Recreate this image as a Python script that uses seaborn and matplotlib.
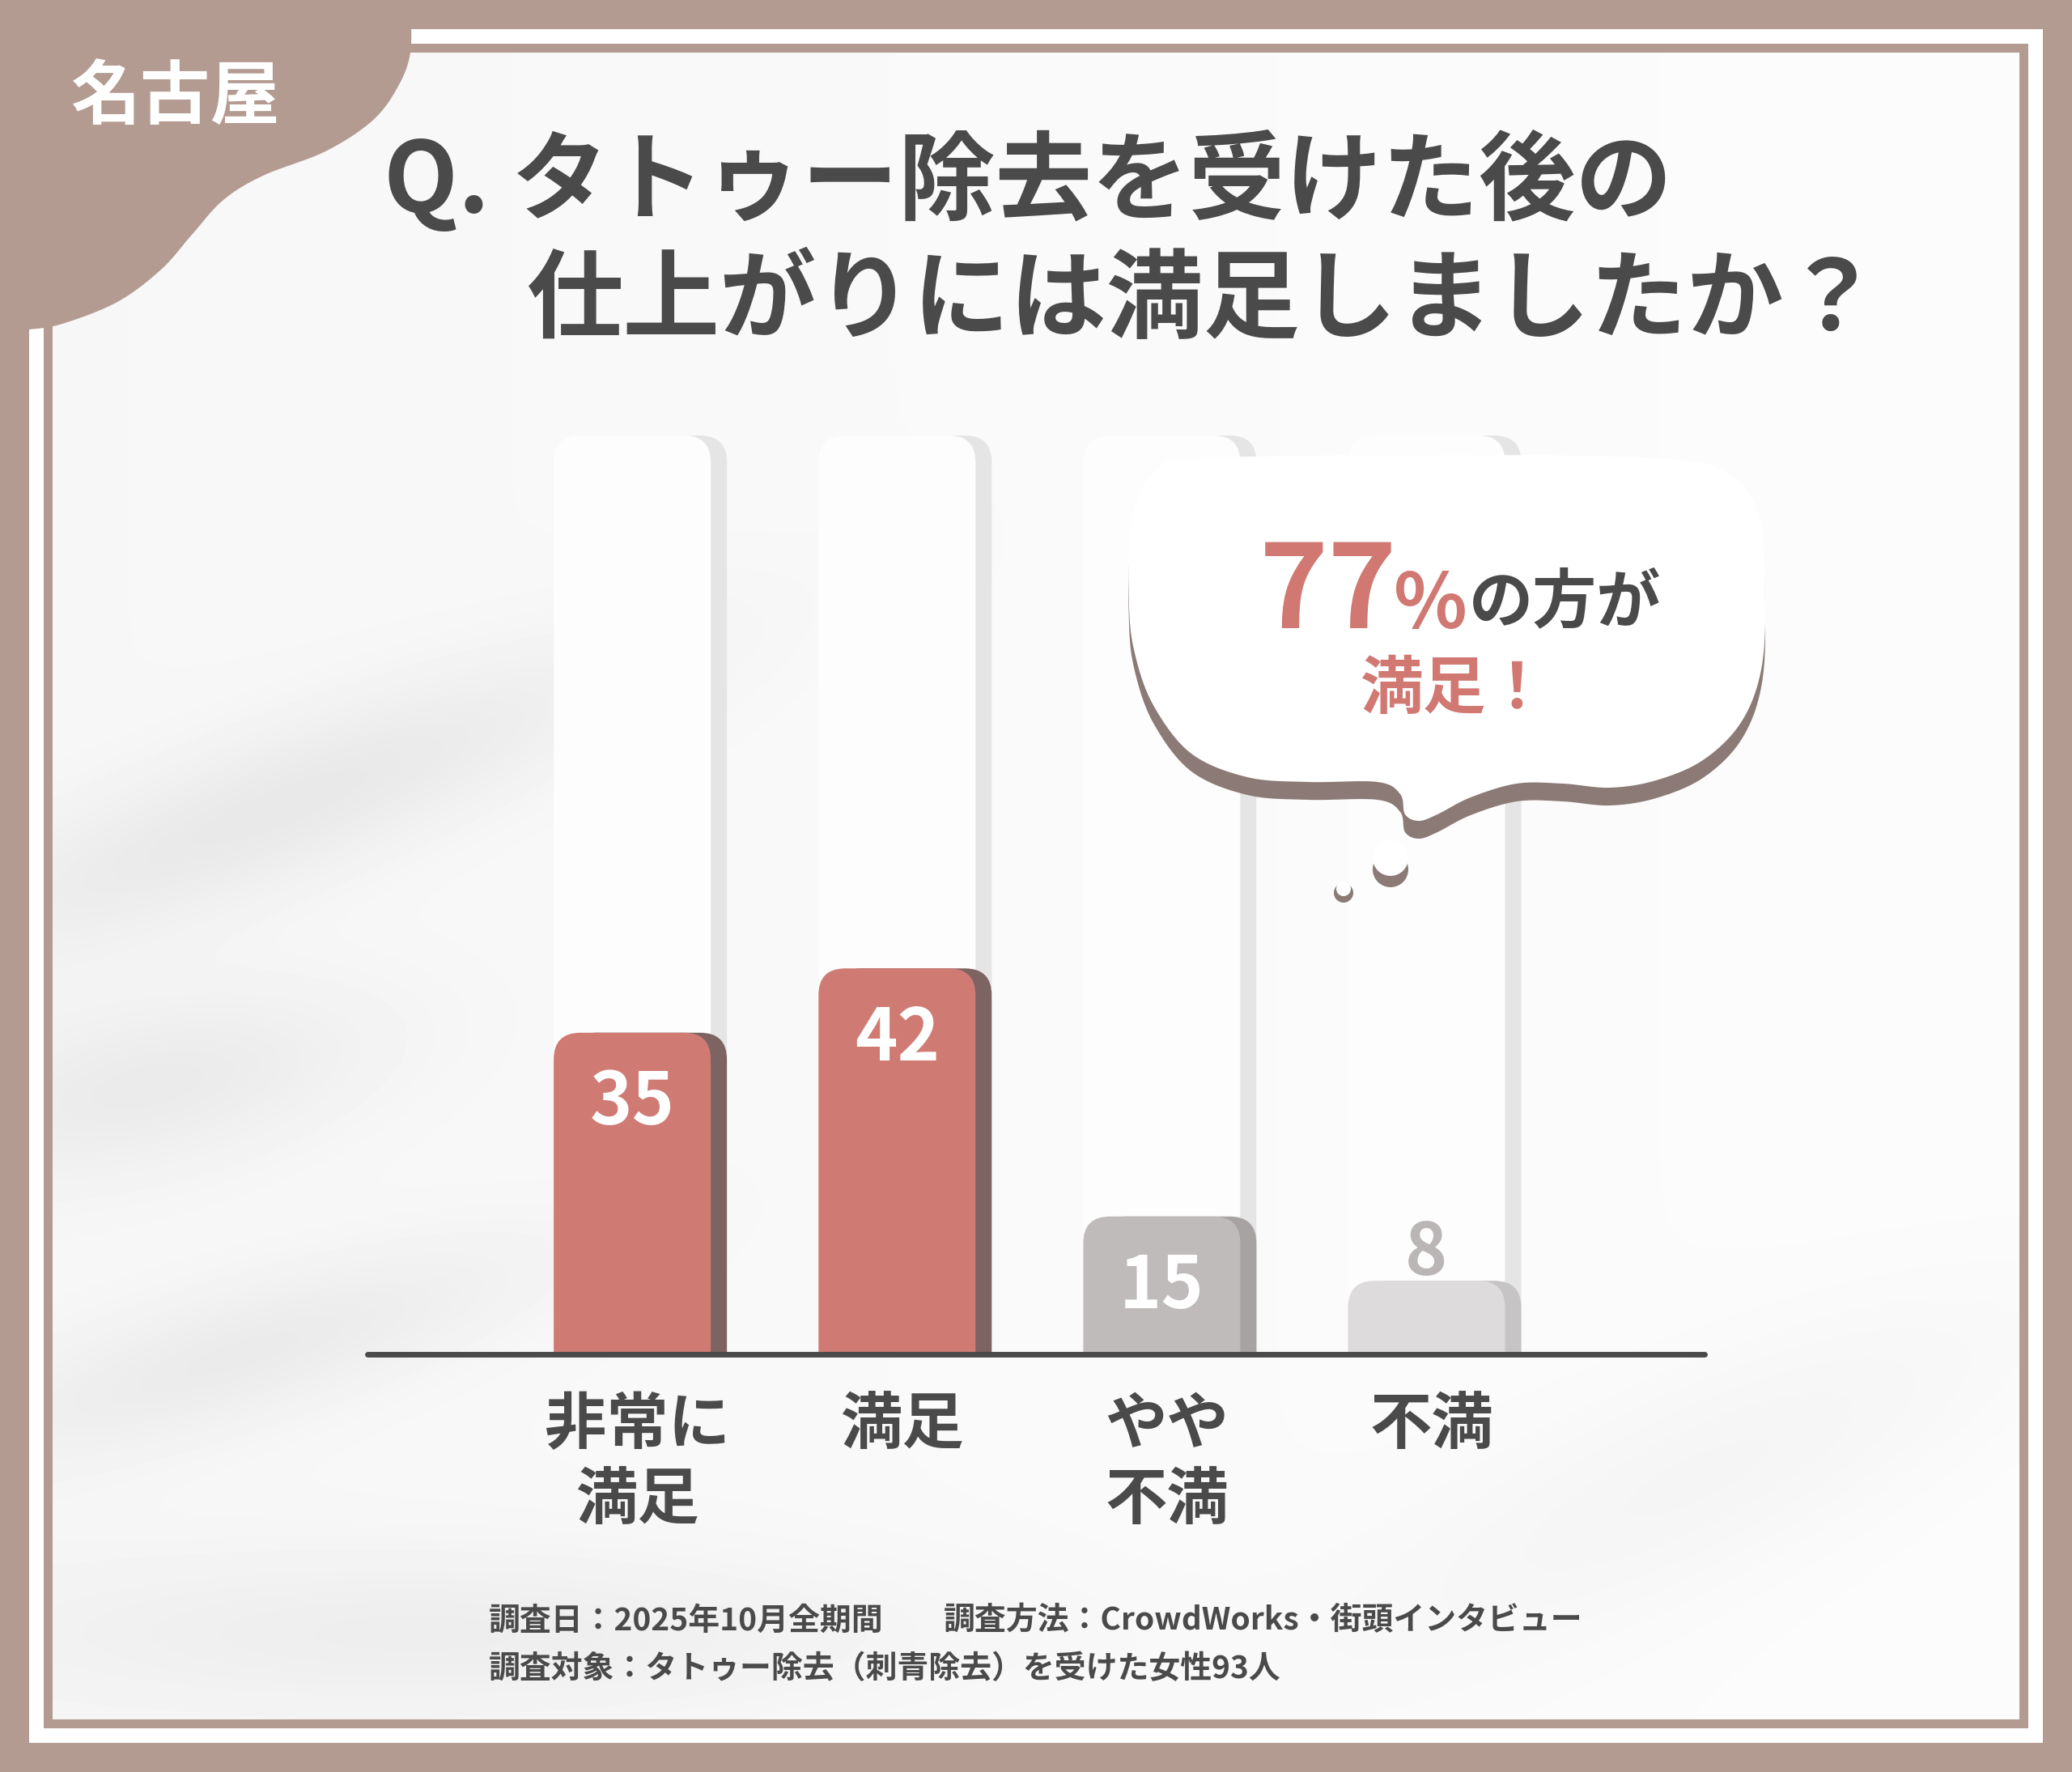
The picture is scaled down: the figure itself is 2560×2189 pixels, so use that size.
import numpy as np
import pandas as pd
import seaborn as sns
import matplotlib.pyplot as plt
from matplotlib.patches import FancyBboxPatch, Rectangle, Polygon, Circle

## Part 0: Data
categories = ["非常に\n満足", "満足", "やや\n不満", "不満"]
values = [35, 42, 15, 8]
scale_max = 100  # background track = 100%
bar_colors = ["#cf7b74", "#cf7b74", "#bfbbba", "#dddbdb"]
shadow_colors = ["#7d6361", "#7d6361", "#a7a3a2", "#c6c4c4"]
label_colors = ["white", "white", "white", "#b9b6b5"]

region = "名古屋"
title_lines = ["Q. タトゥー除去を受けた後の", "仕上がりには満足しましたか？"]
bubble_pct = "77"
bubble_sign = "%"
bubble_rest = "の方が"
bubble_line2 = "満足！"
footer_date = "調査日：2025年10月全期間"
footer_method = "調査方法：CrowdWorks・街頭インタビュー"
footer_target = "調査対象：タトゥー除去（刺青除去）を受けた女性93人"

## Part 1: Style
sns.set_theme(style="white")
plt.rcParams["font.family"] = ["Noto Sans CJK JP", "DejaVu Sans"]

W, H = 2560, 2189
DARK = "#4a4a4a"
BROWN = "#b39b91"
RED = "#d07871"


def smooth(pts, n=20, closed=True):
    # catmull-rom through the outline points (decoration only)
    pts = np.asarray(pts, float)
    if not closed:
        pts = np.vstack([pts[0], pts, pts[-1]])
    m = len(pts)
    rng = range(m) if closed else range(1, m - 2)
    out = []
    t = np.linspace(0, 1, n, endpoint=False)[:, None]
    for i in rng:
        p0, p1, p2, p3 = pts[i - 1], pts[i], pts[(i + 1) % m], pts[(i + 2) % m]
        out.append(0.5 * (2 * p1 + (-p0 + p2) * t + (2 * p0 - 5 * p1 + 4 * p2 - p3) * t**2
                          + (-p0 + 3 * p1 - 3 * p2 + p3) * t**3))
    if not closed:
        out.append(pts[-2][None, :])
    return np.vstack(out)


fig = plt.figure(figsize=(W / 100, H / 100), dpi=100)
fig.patch.set_facecolor(BROWN)

## Part 2: frame and background
deco = fig.add_axes([0, 0, 1, 1], zorder=0)
deco.set_xlim(0, W)
deco.set_ylim(H, 0)
deco.axis("off")
deco.add_patch(Rectangle((36, 36), W - 72, H - 72, fc="white", ec="none", zorder=1))
deco.add_patch(Rectangle((54, 54), W - 108, H - 108, fc=BROWN, ec="none", zorder=1.5))

yy, xx = np.mgrid[0:1:260j, 0:1:300j]
shade = 0.968 + 0.02 * xx
for cx, cy, sx, sy, ang, amp in [
    (0.12, 0.45, 0.20, 0.045, -25, 0.06),
    (0.05, 0.62, 0.12, 0.05, -15, 0.05),
    (0.10, 0.78, 0.16, 0.04, -20, 0.05),
    (0.20, 0.95, 0.25, 0.05, 0, 0.04),
    (0.85, 0.85, 0.20, 0.06, -30, 0.025),
]:
    a = np.deg2rad(ang)
    u = (xx - cx) * np.cos(a) + (yy - cy) * np.sin(a)
    v = -(xx - cx) * np.sin(a) + (yy - cy) * np.cos(a)
    shade -= amp * np.exp(-((u / sx) ** 2 + (v / sy) ** 2))
deco.imshow(shade, cmap="gray", vmin=0, vmax=1, extent=(65, 2495, 2124, 65),
            aspect="auto", interpolation="bicubic", zorder=2)

corner = smooth([(507, 0), (507, 65), (490, 110), (459, 150), (402, 187), (325, 217),
                 (276, 247), (237, 290), (199, 333), (145, 373), (77, 400), (36, 407),
                 (0, 409)], closed=False)
corner = np.vstack([[0, 0], corner])
deco.add_patch(Polygon(corner, closed=True, fc=BROWN, ec="none", zorder=3))
deco.text(216, 122, region, color="white", fontsize=62, fontweight="bold",
          ha="center", va="center", zorder=4)

deco.text(474, 225, title_lines[0], color=DARK, fontsize=86, fontweight="bold",
          ha="left", va="center", zorder=4)
deco.text(650, 373, title_lines[1], color=DARK, fontsize=86, fontweight="bold",
          ha="left", va="center", zorder=4)

deco.text(604, 2002, footer_date, color=DARK, fontsize=28, fontweight="bold",
          ha="left", va="center", zorder=4)
deco.text(1166, 2002, footer_method, color=DARK, fontsize=28, fontweight="bold",
          ha="left", va="center", zorder=4)
deco.text(604, 2062, footer_target, color=DARK, fontsize=28, fontweight="bold",
          ha="left", va="center", zorder=4)

## Part 3: bar chart
base_px, left_px, right_px = 1673, 454, 2106
px_per_unit = 11.35
ylim_top = 106
ax = fig.add_axes([left_px / W, (H - base_px) / H, (right_px - left_px) / W,
                   ylim_top * px_per_unit / H], zorder=1)
ax.patch.set_alpha(0)
xlim = (-1.0, 4.05)
px_per_x = (right_px - left_px) / (xlim[1] - xlim[0])
aspect = px_per_x / px_per_unit
radius = 33 / px_per_x
shadow_dx = 20 / px_per_x
BAR_W = 194 / px_per_x


def add_bars(y, colors, dx, zorder):
    before = len(ax.patches)
    sns.barplot(x=categories, y=y, hue=categories, palette=colors, legend=False,
                width=BAR_W, saturation=1, errorbar=None, ax=ax)
    for p in list(ax.patches[before:]):
        x, w, h = p.get_x(), p.get_width(), p.get_height()
        fc = p.get_facecolor()
        p.remove()
        ax.add_patch(FancyBboxPatch((x + dx, -6), w, h + 6,
                                    boxstyle=f"round,pad=0,rounding_size={radius}",
                                    mutation_aspect=aspect, fc=fc, ec="none", zorder=zorder))


track = [scale_max] * len(categories)
add_bars(track, ["#e5e5e5"] * 4, shadow_dx, 1)
add_bars(track, ["#fdfdfd"] * 4, 0, 1.5)
add_bars(values, shadow_colors, shadow_dx, 2)
add_bars(values, bar_colors, 0, 3)

ax.set_xlim(*xlim)
ax.set_ylim(0, ylim_top)
ax.axhline(0, color=DARK, lw=5, clip_on=False, zorder=5)
ax.set(xlabel=None, ylabel=None, xticks=[], yticks=[])
sns.despine(ax=ax, left=True, bottom=True)

for i, (cat, v) in enumerate(zip(categories, values)):
    inside = v >= 10
    ax.text(i, v - 10 if inside else v + 0.6, str(v), color=label_colors[i], fontsize=64,
            fontweight="bold", ha="center", va="baseline", zorder=6)
    ax.text(i + 0.02, -4.3, cat, color=DARK, fontsize=55, fontweight="bold", ha="center",
            va="top", linespacing=1.25, clip_on=False)

## Part 4: speech bubble
top = fig.add_axes([0, 0, 1, 1], zorder=2)
top.set_xlim(0, W)
top.set_ylim(H, 0)
top.axis("off")
outline = smooth([(1489, 566), (1800, 562), (2046, 566), (2132, 583), (2173, 637),
                  (2181, 749), (2175, 832), (2150, 894), (2104, 939), (2046, 964),
                  (1989, 973), (1931, 968), (1874, 968), (1817, 985), (1776, 1006),
                  (1753, 1014), (1736, 1006), (1730, 981), (1702, 966), (1616, 966),
                  (1541, 960), (1472, 931), (1426, 873), (1403, 811), (1395, 749),
                  (1398, 645), (1426, 583)])
top.add_patch(Polygon(outline + [0, 22], closed=True, fc="#8b7a75", ec="none", zorder=1))
top.add_patch(Polygon(outline, closed=True, fc="white", ec="none", zorder=2))
top.add_patch(Circle((1718, 1074), 22, fc="#8b7a75", ec="none", zorder=1))
top.add_patch(Circle((1718, 1060), 22, fc="white", ec="none", zorder=2))
top.add_patch(Circle((1660, 1103), 12, fc="#8b7a75", ec="none", zorder=1))
top.add_patch(Circle((1660, 1098), 9, fc="white", ec="none", zorder=2))

top.text(1556, 776, bubble_pct, color=RED, fontsize=104, fontweight="bold",
         ha="left", va="baseline", zorder=3)
top.text(1722, 776, bubble_sign, color=RED, fontsize=68, fontweight="bold",
         ha="left", va="baseline", zorder=3)
top.text(1815, 768, bubble_rest, color=DARK, fontsize=57, fontweight="bold",
         ha="left", va="baseline", zorder=3)
top.text(1797, 852, bubble_line2, color=RED, fontsize=56, fontweight="bold",
         ha="center", va="center", zorder=3)

fig.savefig("out.png", dpi=100, facecolor=fig.get_facecolor())
